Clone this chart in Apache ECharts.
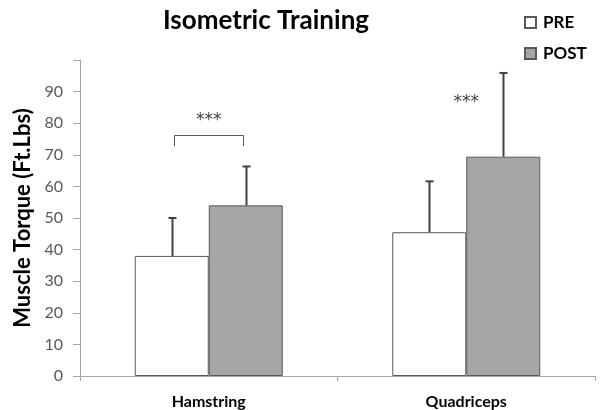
<!DOCTYPE html>
<html><head><meta charset="utf-8">
<script src="https://cdn.jsdelivr.net/npm/echarts@6/dist/echarts.min.js"></script>
<style>html,body{margin:0;padding:0;background:#fff}#c{width:600px;height:410px}</style>
</head><body><div id="c"></div>
<script>
const categories = ['Hamstring', 'Quadriceps'];
const preValues = [38.0, 45.5];
const postValues = [54.0, 69.4];
const preErr = [12.0, 16.1];
const postErr = [12.3, 26.5];
const yTicks = [0, 10, 20, 30, 40, 50, 60, 70, 80, 90];
const sigStars = ['***', '***'];
const sigHeights = [80.9, 86.5];
const bracketTop = [76.2, null];
const bracketLeg = [72.7, null];

const BW = 74;
const FONT = 'Lato, "Open Sans", sans-serif';
const chart = echarts.init(document.getElementById('c'), null, {renderer: 'canvas'});

const errData = [];
categories.forEach((c, i) => {
  errData.push([i, preValues[i], preErr[i], -1]);
  errData.push([i, postValues[i], postErr[i], 1]);
});
const annData = categories.map((c, i) => [i, sigHeights[i], bracketTop[i], bracketLeg[i]]);

chart.setOption({
  animation: false,
  title: {
    text: 'Isometric Training', left: 261, top: 3, textAlign: 'center',
    textStyle: {fontFamily: FONT, fontWeight: 'bold', fontSize: 26, color: '#000'}
  },
  legend: {
    orient: 'vertical', left: 519, top: 9, itemGap: 14,
    icon: 'rect', itemWidth: 11, itemHeight: 11,
    textStyle: {fontFamily: FONT, fontWeight: 'bold', fontSize: 17, color: '#000', padding: [0,0,0,2]},
    data: ['PRE', 'POST']
  },
  grid: {left: 80, right: 5, top: 60, bottom: 34, containLabel: false},
  xAxis: {
    type: 'category', data: categories,
    axisLine: {lineStyle: {color: '#a6a6a6', width: 1}},
    axisTick: {show: true, alignWithLabel: false, length: 5, lineStyle: {color: '#a6a6a6'}},
    axisLabel: {fontFamily: FONT, fontWeight: 'bold', fontSize: 16, color: '#000', margin: 18}
  },
  yAxis: {
    type: 'value', min: 0, max: 100, interval: 10,
    name: 'Muscle Torque (Ft.Lbs)', nameLocation: 'middle', nameGap: 44, nameRotate: 90,
    nameTextStyle: {fontFamily: FONT, fontWeight: 'bold', fontSize: 22, color: '#000'},
    axisLine: {show: true, lineStyle: {color: '#a6a6a6'}},
    axisTick: {show: true, length: 7, lineStyle: {color: '#a6a6a6'}},
    splitLine: {show: false},
    axisLabel: {
      fontFamily: FONT, fontSize: 16, color: '#595959', margin: 17,
      formatter: v => yTicks.indexOf(v) >= 0 ? String(v) : ''
    }
  },
  series: [
    {name: 'PRE', type: 'bar', data: preValues, barWidth: BW, barGap: '0%',
     itemStyle: {color: '#ffffff', borderColor: '#595959', borderWidth: 1}},
    {name: 'POST', type: 'bar', data: postValues, barWidth: BW, barGap: '0%',
     itemStyle: {color: '#a6a6a6', borderColor: '#595959', borderWidth: 1}},
    {type: 'custom', data: errData, z: 10, silent: true,
     renderItem: (params, api) => {
       const i = api.value(0), v = api.value(1), e = api.value(2), side = api.value(3);
       const base = api.coord([i, v]);
       const top = api.coord([i, v + e]);
       const x = Math.round(base[0] + side * BW / 2) + 0.5;
       return {type: 'group', children: [
         {type: 'line', shape: {x1: x, y1: base[1], x2: x, y2: top[1]}, style: {stroke: '#404040', lineWidth: 2}},
         {type: 'line', shape: {x1: x - 4, y1: top[1], x2: x + 4, y2: top[1]}, style: {stroke: '#404040', lineWidth: 2}}
       ]};
     }},
    {type: 'custom', data: annData, z: 10, silent: true,
     renderItem: (params, api) => {
       const i = api.value(0);
       const star = api.coord([i, api.value(1)]);
       const children = [
         {type: 'text', x: star[0], y: star[1], style: {text: sigStars[i], fill: '#404040', font: '17px "DejaVu Sans", sans-serif', textAlign: 'center', textVerticalAlign: 'middle'}}
       ];
       const bt = api.value(2), bl = api.value(3);
       if (bracketTop[i] !== null) {
         const yt = Math.round(api.coord([i, bt])[1]) + 0.5;
         const yl = api.coord([i, bl])[1];
         const xl = Math.round(star[0] - BW / 2 + 2) + 0.5;
         const xr = Math.round(star[0] + BW / 2 - 3) + 0.5;
         children.push({type: 'polyline', shape: {points: [[xl, yl], [xl, yt], [xr, yt], [xr, yl]]}, style: {stroke: '#595959', lineWidth: 1, fill: null}});
       }
       return {type: 'group', children};
     }}
  ]
});
</script></body></html>
